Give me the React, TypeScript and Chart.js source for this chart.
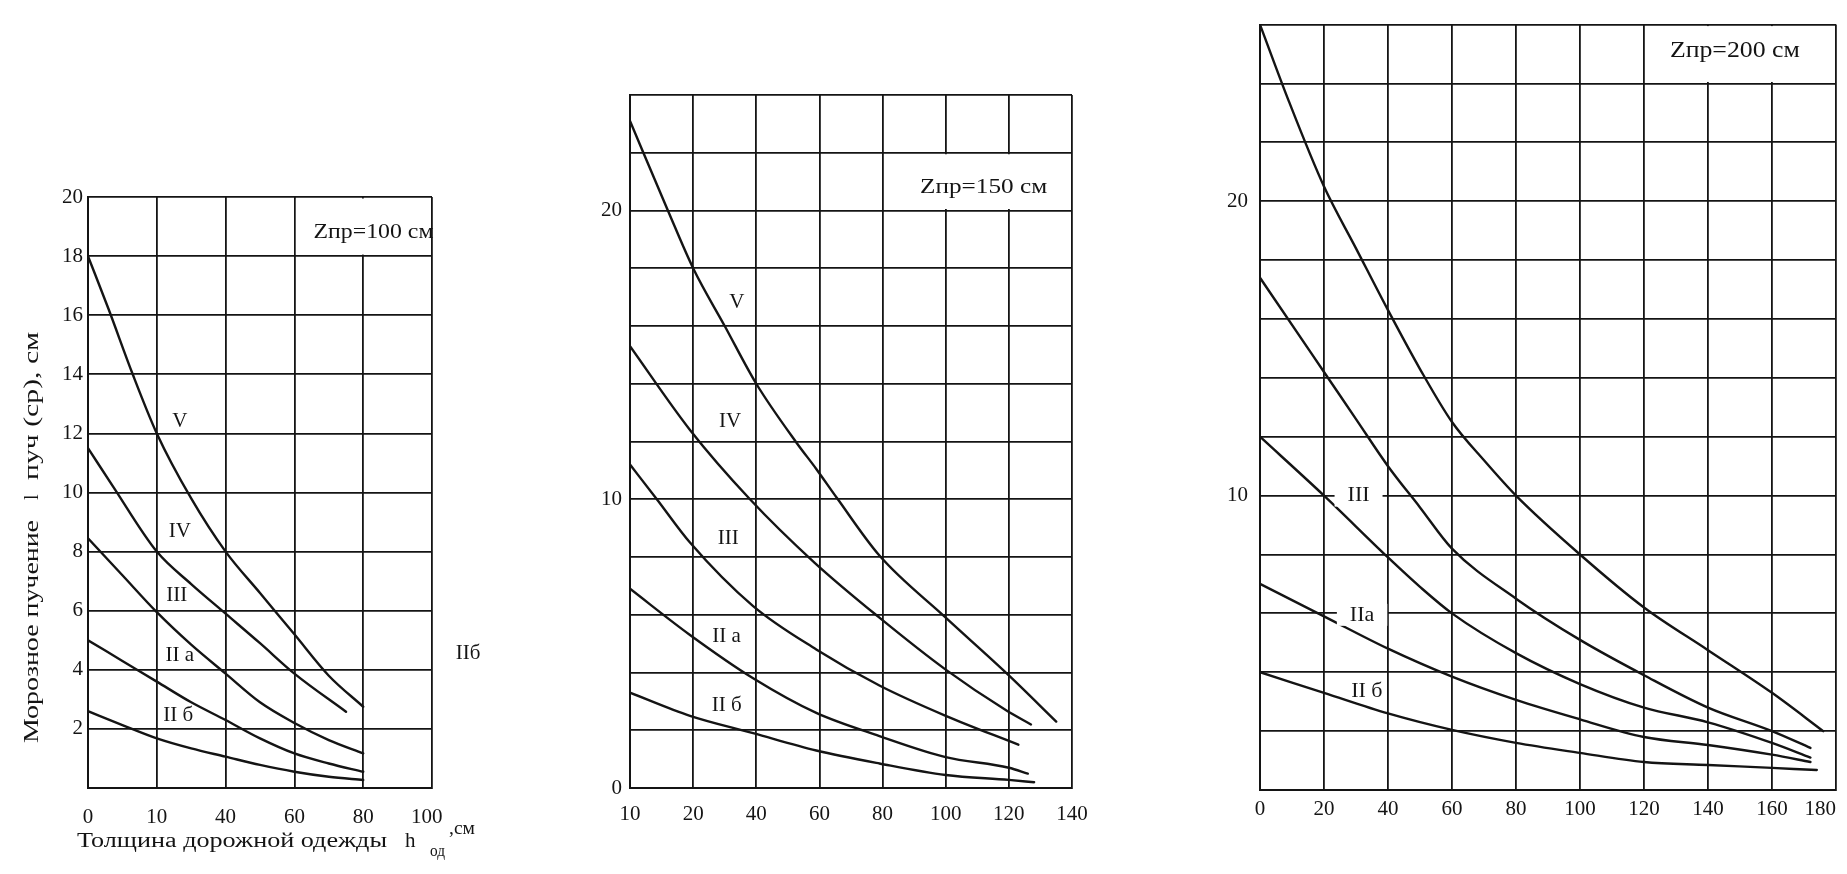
import React, { useEffect, useRef } from 'react';
import { Chart, registerables } from 'chart.js';

Chart.register(...registerables);

// ---------------- Panel 1: Zпр = 100 см ----------------
const P1_X_TICKS = [0, 20, 40, 60, 80, 100];
const P1_X_LABELS = ['0', '10', '40', '60', '80', '100'];
const P1_Y_TICKS = [2, 4, 6, 8, 10, 12, 14, 16, 18, 20];
const P1_Y_LABELS = ['2', '4', '6', '8', '10', '12', '14', '16', '18', '20'];
const P1_V_X = [0, 6, 13, 20, 30, 40, 50, 60, 70, 80];
const P1_V = [18, 16.2, 14, 12, 9.8, 8.0, 6.6, 5.2, 3.8, 2.75];
const P1_IV_X = [0, 7.3, 20, 30, 40, 50, 60, 75];
const P1_IV = [11.5, 10.2, 8.0, 6.9, 5.9, 4.9, 3.87, 2.58];
const P1_X = [0, 10, 20, 30, 40, 50, 60, 70, 80];
const P1_III = [8.45, 7.2, 5.95, 4.85, 3.87, 2.9, 2.2, 1.62, 1.17];
const P1_IIA = [5.0, 4.3, 3.6, 2.9, 2.3, 1.68, 1.17, 0.83, 0.55];
const P1_IIB = [2.6, 2.13, 1.68, 1.34, 1.06, 0.78, 0.55, 0.38, 0.27];

// ---------------- Panel 2: Zпр = 150 см ----------------
const P2_X_TICKS = [0, 20, 40, 60, 80, 100, 120, 140];
const P2_X_LABELS = ['10', '20', '40', '60', '80', '100', '120', '140'];
const P2_Y_TICKS = [0, 10, 20];
const P2_Y_LABELS = ['0', '10', '20'];
const P2_V_X = [0, 12, 20, 30, 40, 52.8, 59, 65.5, 79, 100, 120, 135];
const P2_V = [23.1, 20, 18, 16, 14, 11.95, 11.05, 10.05, 8.05, 5.9, 3.9, 2.3];
const P2_IV_X = [0, 19, 38, 58.5, 79, 100, 119, 127];
const P2_IV = [15.3, 12.4, 10.0, 7.8, 5.9, 4.1, 2.7, 2.2];
const P2_III_X = [0, 8.5, 19, 39, 59, 79, 100, 123];
const P2_III = [11.2, 10, 8.5, 6.3, 4.8, 3.55, 2.5, 1.5];
const P2_IIA_X = [0, 19, 39, 59, 79, 100, 120, 126];
const P2_IIA = [6.9, 5.3, 3.8, 2.6, 1.8, 1.07, 0.7, 0.5];
const P2_IIB_X = [0, 19, 39, 59, 79, 100, 120, 128];
const P2_IIB = [3.3, 2.5, 1.9, 1.3, 0.85, 0.45, 0.28, 0.2];

// ---------------- Panel 3: Zпр = 200 см ----------------
const P3_X_TICKS = [0, 20, 40, 60, 80, 100, 120, 140, 160, 180];
const P3_X_LABELS = ['0', '20', '40', '60', '80', '100', '120', '140', '160', '180'];
const P3_Y_TICKS = [10, 20];
const P3_Y_LABELS = ['10', '20'];
const P3_V_X = [0, 9, 20, 30, 40, 50, 60, 70, 80, 100, 120, 140, 160, 176];
const P3_V = [26.0, 23.4, 20.5, 18.4, 16.3, 14.3, 12.5, 11.2, 10.0, 8.0, 6.2, 4.75, 3.3, 2.0];
const P3_IV_X = [0, 20, 30, 40, 50, 60, 80, 100, 120, 140, 160, 172];
const P3_IV = [17.4, 14.2, 12.6, 11.0, 9.6, 8.2, 6.5, 5.1, 3.9, 2.8, 2.0, 1.43];
const P3_III_X = [0, 20, 40, 50, 60, 80, 100, 120, 140, 160, 172];
const P3_III = [12.0, 10.0, 7.9, 6.9, 6.0, 4.65, 3.6, 2.8, 2.3, 1.6, 1.1];
const P3_IIA_X = [0, 20, 40, 60, 80, 100, 120, 140, 160, 172];
const P3_IIA = [7.0, 5.9, 4.8, 3.85, 3.06, 2.4, 1.8, 1.53, 1.2, 0.95];
const P3_IIB_X = [0, 20, 40, 60, 80, 100, 120, 140, 160, 174];
const P3_IIB = [4.0, 3.3, 2.6, 2.04, 1.6, 1.26, 0.95, 0.85, 0.75, 0.68];

const FONT = "'Liberation Serif', 'DejaVu Serif', 'Times New Roman', serif";
const INK = '#141414';

type Series = { xs: number[]; ys: number[] };
type Label = { text: string; x: number; y: number; bg?: boolean };
type Spec = {
  left: number; top: number; width: number; height: number;
  padTop: number; padRight: number; yAxisW: number; xAxisH: number;
  xMax: number; yMax: number; xStep: number; yStep: number;
  xTicks: number[]; xLabels: string[]; yTicks: number[]; yLabels: string[];
  lastXLabelShift: number;
  series: Series[];
  box: [number, number, number, number];
  boxText: { text: string; x: number; y: number; size: number; width: number };
  labels: Label[];
  labelSize: number;
  tickSize: number; xTickPad: number; yTickPad: number;
  extra?: (ctx: CanvasRenderingContext2D, area: any) => void;
};

// draws left-aligned text, optionally stretched horizontally to a target width
function fitText(ctx: CanvasRenderingContext2D, text: string, x: number, y: number, size: number, targetW?: number) {
  ctx.font = `${size}px ${FONT}`;
  const w = ctx.measureText(text).width;
  const sx = targetW ? targetW / w : 1;
  ctx.save();
  ctx.translate(x, y);
  ctx.scale(sx, 1);
  ctx.fillText(text, 0, 0);
  ctx.restore();
}

function p1Extra(ctx: CanvasRenderingContext2D, area: any) {
  ctx.save();
  ctx.fillStyle = INK;
  ctx.textAlign = 'left';
  ctx.textBaseline = 'alphabetic';
  const L = area.left;
  const B = area.bottom;
  fitText(ctx, 'Толщина дорожной одежды', L - 11, B + 59, 20, 310);
  fitText(ctx, 'h', L + 317, B + 59, 21);
  fitText(ctx, 'од', L + 342, B + 68, 17, 15);
  fitText(ctx, ',см', L + 361, B + 46, 18, 26);
  // y title (rotated)
  ctx.translate(L - 50, area.top + 546);
  ctx.rotate(-Math.PI / 2);
  fitText(ctx, 'Морозное пучение', 0, 0, 20, 223);
  fitText(ctx, 'l', 243, 0, 20);
  fitText(ctx, 'пуч (ср), см', 263, 0, 20, 148);
  ctx.restore();
}

const SPECS: Spec[] = [
  {
    left: 0, top: 150, width: 540, height: 724,
    padTop: 47, padRight: 108, yAxisW: 88, xAxisH: 86,
    xMax: 100, yMax: 20, xStep: 20, yStep: 2,
    xTicks: P1_X_TICKS, xLabels: P1_X_LABELS, yTicks: P1_Y_TICKS, yLabels: P1_Y_LABELS,
    lastXLabelShift: 2,
    series: [
      { xs: P1_V_X, ys: P1_V },
      { xs: P1_IV_X, ys: P1_IV },
      { xs: P1_X, ys: P1_III },
      { xs: P1_X, ys: P1_IIA },
      { xs: P1_X, ys: P1_IIB },
    ],
    box: [60, 100, 18, 20],
    boxText: { text: 'Zпр=100 см', x: 83, y: 18.8, size: 20, width: 120 },
    labels: [
      { text: 'V', x: 26.7, y: 12.4 },
      { text: 'IV', x: 26.7, y: 8.67 },
      { text: 'III', x: 25.8, y: 6.53 },
      { text: 'II a', x: 26.7, y: 4.5 },
      { text: 'II б', x: 26.2, y: 2.47 },
      { text: 'IIб', x: 110.5, y: 4.55 },
    ],
    labelSize: 21,
    tickSize: 21, xTickPad: 17, yTickPad: 5,
    extra: p1Extra,
  },
  {
    left: 540, top: 40, width: 580, height: 834,
    padTop: 55, padRight: 48, yAxisW: 90, xAxisH: 86,
    xMax: 140, yMax: 24, xStep: 20, yStep: 2,
    xTicks: P2_X_TICKS, xLabels: P2_X_LABELS, yTicks: P2_Y_TICKS, yLabels: P2_Y_LABELS,
    lastXLabelShift: 0,
    series: [
      { xs: P2_V_X, ys: P2_V },
      { xs: P2_IV_X, ys: P2_IV },
      { xs: P2_III_X, ys: P2_III },
      { xs: P2_IIA_X, ys: P2_IIA },
      { xs: P2_IIB_X, ys: P2_IIB },
    ],
    box: [80, 140, 20, 22],
    boxText: { text: 'Zпр=150 см', x: 112, y: 20.8, size: 21, width: 127 },
    labels: [
      { text: 'V', x: 33.8, y: 16.8 },
      { text: 'IV', x: 31.7, y: 12.7 },
      { text: 'III', x: 31.1, y: 8.65 },
      { text: 'II a', x: 30.6, y: 5.24 },
      { text: 'II б', x: 30.6, y: 2.87 },
    ],
    labelSize: 21,
    tickSize: 21, xTickPad: 14, yTickPad: 8,
  },
  {
    left: 1140, top: 0, width: 740, height: 874,
    padTop: 24, padRight: 44, yAxisW: 120, xAxisH: 84,
    xMax: 180, yMax: 26, xStep: 20, yStep: 2,
    xTicks: P3_X_TICKS, xLabels: P3_X_LABELS, yTicks: P3_Y_TICKS, yLabels: P3_Y_LABELS,
    lastXLabelShift: 6,
    series: [
      { xs: P3_V_X, ys: P3_V },
      { xs: P3_IV_X, ys: P3_IV },
      { xs: P3_III_X, ys: P3_III },
      { xs: P3_IIA_X, ys: P3_IIA },
      { xs: P3_IIB_X, ys: P3_IIB },
    ],
    box: [120, 180, 24, 26],
    boxText: { text: 'Zпр=200 см', x: 148.4, y: 25.1, size: 24, width: 130 },
    labels: [
      { text: 'III', x: 30.8, y: 10.0, bg: true },
      { text: 'IIa', x: 31.9, y: 5.95, bg: true },
      { text: 'II б', x: 33.4, y: 3.34 },
    ],
    labelSize: 22,
    tickSize: 21, xTickPad: 7, yTickPad: 12,
  },
];

function makePlugin(spec: Spec) {
  return {
    id: 'panelDecor',
    beforeDatasetsDraw(chart: any) {
      const { ctx, scales } = chart;
      const x = scales.x, y = scales.y;
      const [bx0, bx1, by0, by1] = spec.box;
      const l = x.getPixelForValue(bx0) + 1.5;
      const r = x.getPixelForValue(bx1) - 1.5;
      const t = y.getPixelForValue(by1) + 1.5;
      const b = y.getPixelForValue(by0) - 1.5;
      ctx.save();
      ctx.fillStyle = '#ffffff';
      ctx.fillRect(l, t, r - l, b - t);
      ctx.fillStyle = INK;
      ctx.textBaseline = 'middle';
      ctx.textAlign = 'left';
      const bt = spec.boxText;
      const cx = x.getPixelForValue(bt.x);
      const cy = y.getPixelForValue(bt.y);
      fitText(ctx, bt.text, cx - bt.width / 2, cy, bt.size, bt.width);
      ctx.restore();
    },
    afterDatasetsDraw(chart: any) {
      const { ctx, scales, chartArea } = chart;
      const x = scales.x, y = scales.y;
      ctx.save();
      ctx.font = `${spec.labelSize}px ${FONT}`;
      ctx.textAlign = 'center';
      ctx.textBaseline = 'middle';
      for (const lb of spec.labels) {
        const px = x.getPixelForValue(lb.x);
        const py = y.getPixelForValue(lb.y);
        if (lb.bg) {
          const w = ctx.measureText(lb.text).width + 26;
          ctx.fillStyle = '#ffffff';
          ctx.fillRect(px - w / 2, py - 11, w, 22);
        }
        ctx.fillStyle = INK;
        ctx.fillText(lb.text, px, py);
      }
      ctx.restore();
      if (spec.extra) spec.extra(ctx, chartArea);
    },
  };
}

function Panel({ spec }: { spec: Spec }) {
  const ref = useRef<HTMLCanvasElement | null>(null);
  useEffect(() => {
    if (!ref.current) return;
    const tickFont = { family: FONT, size: spec.tickSize };
    const chart = new Chart(ref.current, {
      type: 'line',
      data: {
        datasets: spec.series.map((s) => ({
          data: s.xs.map((xv, i) => ({ x: xv, y: s.ys[i] })),
          borderColor: INK,
          borderWidth: 2.4,
          pointRadius: 0,
          fill: false,
          tension: 0.4,
          cubicInterpolationMode: 'monotone' as const,
          borderCapStyle: 'round' as const,
        })),
      },
      options: {
        animation: false,
        responsive: false,
        maintainAspectRatio: false,
        events: [],
        layout: { padding: { top: spec.padTop, right: spec.padRight, left: 0, bottom: 0 } },
        plugins: { legend: { display: false }, tooltip: { enabled: false }, title: { display: false } },
        scales: {
          x: {
            type: 'linear',
            min: 0,
            max: spec.xMax,
            afterFit: (s: any) => { s.height = spec.xAxisH; },
            ticks: {
              stepSize: spec.xStep,
              autoSkip: false,
              maxRotation: 0,
              padding: spec.xTickPad,
              color: INK,
              font: tickFont,
              callback: (v: any) => {
                const i = spec.xTicks.indexOf(Number(v));
                if (i < 0) return '';
                const txt = spec.xLabels[i];
                // nudge the right-most label inward like in the original scan
                return i === spec.xTicks.length - 1 ? txt + '\u00a0'.repeat(spec.lastXLabelShift) : txt;
              },
            },
            grid: { color: INK, lineWidth: 1.8, drawTicks: false },
            border: { color: INK, width: 2 },
          },
          y: {
            type: 'linear',
            min: 0,
            max: spec.yMax,
            afterFit: (s: any) => { s.width = spec.yAxisW; },
            ticks: {
              stepSize: spec.yStep,
              autoSkip: false,
              padding: spec.yTickPad,
              color: INK,
              font: tickFont,
              callback: (v: any) => {
                const i = spec.yTicks.indexOf(Number(v));
                return i >= 0 ? spec.yLabels[i] : '';
              },
            },
            grid: { color: INK, lineWidth: 1.8, drawTicks: false },
            border: { color: INK, width: 2 },
          },
        },
      },
      plugins: [makePlugin(spec)],
    });
    return () => chart.destroy();
  }, [spec]);
  return (
    <canvas
      ref={ref}
      width={spec.width}
      height={spec.height}
      style={{ position: 'absolute', left: spec.left, top: spec.top, width: spec.width, height: spec.height }}
    />
  );
}

export default function App() {
  return (
    <div style={{ position: 'fixed', left: 0, top: 0, width: 1847, height: 874, background: '#ffffff', overflow: 'hidden' }}>
      {SPECS.map((s, i) => (
        <Panel key={i} spec={s} />
      ))}
    </div>
  );
}
